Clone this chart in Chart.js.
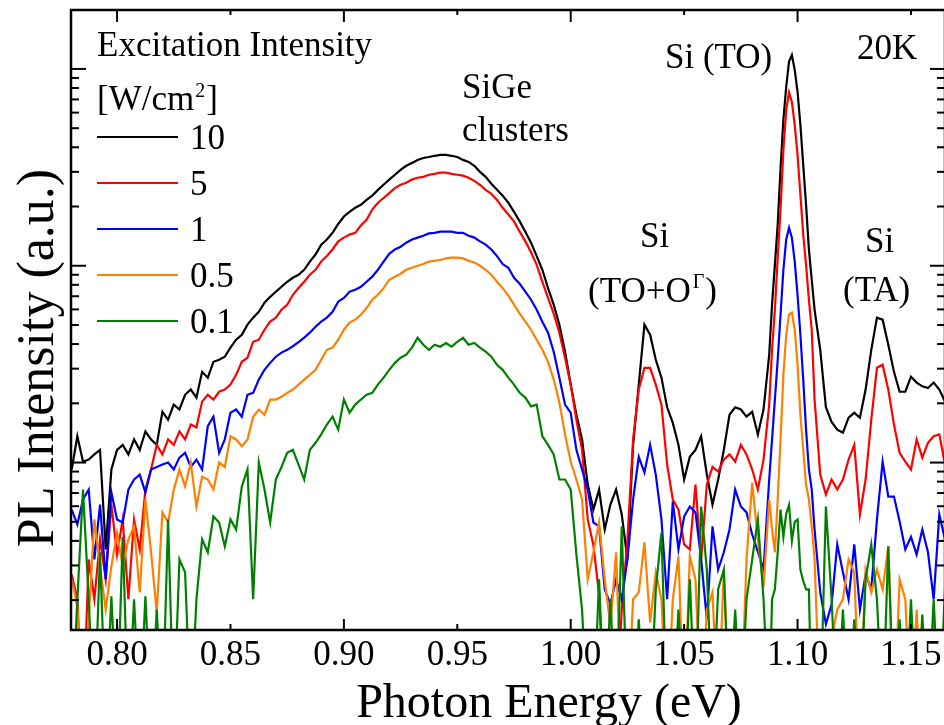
<!DOCTYPE html>
<html>
<head>
<meta charset="utf-8">
<script src="https://cdn.jsdelivr.net/npm/chart.js@4.4.1/dist/chart.umd.min.js"></script>
<style>
  html, body { margin: 0; padding: 0; overflow: hidden; background: #fff; }
  canvas { display: block; }
</style>
</head>
<body>
<canvas id="c" width="960" height="725"></canvas>
<script>
// Photon energy (eV) — finer sampling around the Si(TO) line
const energy = [
0.7800,0.7825,0.7850,0.7875,0.7900,0.7925,0.7950,0.7975,0.8000,0.8025,
0.8050,0.8075,0.8100,0.8125,0.8150,0.8175,0.8200,0.8225,0.8250,0.8275,
0.8300,0.8325,0.8350,0.8375,0.8400,0.8425,0.8450,0.8475,0.8500,0.8525,
0.8550,0.8575,0.8600,0.8625,0.8650,0.8675,0.8700,0.8725,0.8750,0.8775,
0.8800,0.8825,0.8850,0.8875,0.8900,0.8925,0.8950,0.8975,0.9000,0.9025,
0.9050,0.9075,0.9100,0.9125,0.9150,0.9175,0.9200,0.9225,0.9250,0.9275,
0.9300,0.9325,0.9350,0.9375,0.9400,0.9425,0.9450,0.9475,0.9500,0.9525,
0.9550,0.9575,0.9600,0.9625,0.9650,0.9675,0.9700,0.9725,0.9750,0.9775,
0.9800,0.9825,0.9850,0.9875,0.9900,0.9925,0.9950,0.9975,1.0000,1.0025,
1.0050,1.0075,1.0100,1.0125,1.0150,1.0175,1.0200,1.0225,1.0250,1.0275,
1.0300,1.0325,1.0350,1.0375,1.0400,1.0425,1.0450,1.0475,1.0500,1.0525,
1.0550,1.0575,1.0600,1.0625,1.0650,1.0675,1.0700,1.0725,1.0750,1.0775,
1.0800,1.0825,1.0850,1.0875,1.08875,1.0900,1.09125,1.0925,1.09375,1.0950,
1.09625,1.0975,1.09875,1.1000,1.10125,1.1025,1.10375,1.1050,1.10625,1.1075,
1.1100,1.1125,1.1150,1.1175,1.1200,1.1225,1.1250,1.1275,
1.1300,1.1325,1.1350,1.1375,1.1400,1.1425,1.1450,1.1475,1.1500,1.1525,
1.1550,1.1575,1.1600,1.1625,1.1650];

// PL intensity (a.u.) for each excitation intensity
const pl10 = [
9.22,13.6,10.1,10.35,11.0,11.6,3.62,9.22,11.6,12.3,
11.0,13.1,11.6,14.4,13.1,12.3,18.1,16.5,19.7,18.6,
22.1,23.5,21.4,28.9,27.0,32.5,33.3,34.5,38.4,42.1,
44.6,50.2,54.5,58.4,64.9,69.5,73.8,78.2,82.9,86.9,
90.0,95.4,105,114,128,136,147,163,178,188,
197,204,216,227,243,258,274,290,307,322,
333,345,353,357,362,366,366,362,357,345,
337,322,300,283,261,243,227,209,188,168,
149,131,112,95.4,77.0,63.4,50.2,36.6,24.9,17.5,
13.1,7.73,5.77,7.29,4.57,6.12,7.29,5.45,3.22,12.3,
24.9,50.2,44.6,33.3,27.0,19.1,15.9,12.3,8.20,10.7,
11.6,13.6,8.69,6.12,8.20,11.6,17.5,19.1,18.6,17.1,
18.1,13.9,18.6,35.3,63.4,101,162,313,551,812,
1090,1178,989,765,520,326,204,121,84.9,59.8,
37.4,19.1,16.1,14.7,14.2,16.9,17.9,16.9,
23.5,37.4,54.5,53.2,39.7,28.9,22.9,22.9,27.3,25.5,
24.4,23.9,25.5,23.5,20.4];

const pl5 = [
2.70,2.02,0.5,3.22,2.02,4.07,2.55,6.12,3.41,5.14,
2.02,5.14,3.62,7.29,9.22,12.3,11.0,13.1,12.3,14.4,
13.1,15.6,15.1,20.4,22.1,20.9,22.9,23.5,24.9,27.9,
32.5,34.1,41.1,42.1,47.3,52.0,54.5,59.8,63.4,71.2,
77.0,82.9,90.0,95.4,105,112,121,133,139,144,
147,160,171,193,209,221,234,248,258,264,
274,280,283,290,293,297,297,293,290,287,
280,270,258,243,232,216,197,182,168,149,
133,117,101,82.9,68.6,57.1,45.7,34.1,24.9,16.5,
11.6,5.14,3.80,2.14,0.5,0.5,0.5,1.79,4.07,13.1,
23.5,30.3,30.3,24.9,19.7,9.77,6.49,5.77,3.84,3.62,
7.73,3.22,7.73,9.5,9.0,10.35,11.0,10.1,12.3,11.0,
9.22,7.29,10.35,19.7,37.4,59.8,110,193,388,620,
760,680,520,366,230,144,101,67.2,47.3,20.9,
8.69,6.88,8.20,7.29,8.20,10.35,12.3,5.45,
8.20,16.5,30.3,31.4,23.5,15.6,11.2,10.1,9.22,13.1,
10.6,12.6,13.6,13.9,9.77];

const pl1 = [
5.77,4.85,6.49,7.29,3.22,6.12,2.55,7.05,5.14,4.96,
7.29,8.20,8.69,7.05,9.22,9.5,9.77,10.0,9.22,10.6,
11.2,9.5,10.35,9.22,15.3,17.1,11.2,13.1,17.9,18.6,
17.1,22.1,22.6,26.4,29.6,32.1,34.5,36.2,37.4,39.0,
40.9,43.1,45.7,49.0,52.0,54.5,58.4,65.7,68.6,73.8,
75.5,78.2,82.9,88.0,95.4,105,115,121,125,131,
136,139,142,146,147,149,149,149,147,147,
142,139,133,128,121,112,102,97.6,86.9,81.0,
73.8,67.2,59.8,52.0,45.7,36.6,27.0,19.7,17.9,11.6,
9.22,7.29,4.96,4.74,2.27,1.90,2.55,2.02,3.22,6.49,
10.7,8.9,12.3,8.69,5.14,2.02,6.34,3.62,5.32,5.98,
5.58,3.22,1.60,4.74,2.86,3.50,4.57,7.29,5.98,5.58,
4.31,3.53,2.86,8.20,13.1,20.9,33.3,56.4,95.4,136,
156,139,105,71.2,44.6,26.4,14.7,9.22,7.29,4.57,
2.19,1.51,1.90,3.84,2.77,2.02,3.84,1.79,
2.70,2.27,5.14,10.1,6.72,6.72,5.02,3.62,4.19,3.41,
4.57,3.50,2.02,5.45,4.07];

const pl05 = [
2.55,1.86,0.5,1.60,5.14,2.97,1.79,2.97,4.41,2.97,
4.07,4.73,2.19,6.49,3.50,1.73,5.58,4.96,7.29,9.22,
7.56,10.0,5.98,8.49,8.20,7.29,10.0,9.5,13.6,13.1,
12.1,13.1,17.1,18.6,17.5,20.9,20.9,21.6,22.6,23.5,
24.9,26.4,27.9,29.6,33.3,37.4,38.4,42.1,47.3,51.4,
53.2,56.4,61.0,67.2,71.2,77.0,84.9,88.0,91.1,95.4,
97.6,100,102,105,106,107,109,110,110,109,
106,104,100,95.4,90.0,82.9,77.0,70.5,63.4,57.1,
52.0,47.3,42.1,37.4,32.5,26.4,20.2,13.9,10.1,8.20,
6.49,2.55,3.50,4.96,2.55,1.47,3.50,0.5,0.5,2.02,
2.19,3.93,1.54,2.77,2.02,0.5,2.02,3.34,0.5,3.34,
2.55,0.5,1.79,2.19,0.5,2.86,0.5,1.60,0.5,3.22,
7.9,4.07,2.33,6.49,4.57,3.50,6.49,13.1,27.9,44.6,
56.4,57.7,47.3,31.4,17.5,11.6,7.73,6.49,4.74,3.22,
0.5,0.5,1.26,1.79,2.02,3.22,2.77,0.5,
2.86,2.19,2.86,2.27,3.75,0.5,2.55,2.02,0.5,1.79,
0.5,0.5,1.60,0.5,1.60];

const pl01 = [
0.5,2.02,7.29,2.02,0.5,3.50,0.5,2.09,0.5,4.2,
0.5,2.02,0.5,2.09,0.5,1.79,0.5,5.14,0.5,3.22,
2.77,0.5,2.02,4.07,3.50,5.32,4.96,3.75,5.14,4.57,
7.56,9.22,2.02,10.0,7.29,4.96,8.20,9.5,11.2,11.6,
9.77,8.2,11.6,12.6,13.9,15.6,17.1,14.7,20.9,17.9,
19.7,20.9,22.1,22.6,24.9,27.0,29.6,32.1,34.1,35.3,
38.4,43.1,39.7,37.4,39.7,38.8,40.5,38.8,41.1,43.1,
39.7,40.5,38.4,36.6,34.5,31.4,29.6,27.0,24.9,22.6,
21.4,19.3,19.7,13.6,12.3,11.0,8.20,8.20,7.29,3.41,
1.79,0.5,0.5,2.55,0.5,2.02,0.5,4.74,0.5,0.5,
1.60,0.5,0.5,2.27,4.41,0.5,0.5,1.79,0.5,2.55,
0.5,5.98,2.86,0.5,2.27,2.86,0.5,1.79,0.5,2.02,
3.22,5.14,2.02,0.5,2.02,2.27,3.50,5.77,4.20,5.50,
6.10,4.00,5.00,5.14,2.86,2.50,2.27,2.27,0.5,0.5,
0.5,5.98,2.02,0.5,1.79,0.5,1.60,0.5,
2.55,3.84,2.02,0.5,3.75,0.5,1.60,0.5,2.02,0.5,
1.69,0.5,2.02,0.5,2.27];

const seriesLabels = ['10', '5', '1', '0.5', '0.1'];
const seriesColors = ['#000000', '#ff0000', '#0000ff', '#ff8000', '#008000'];
const seriesValues = [pl10, pl5, pl1, pl05, pl01];

const xMin = 0.7797, xMax = 1.165;
const yMin = 1.41, yMax = 1993;

const SERIF = '"Liberation Serif", "Times New Roman", serif';

function seg(ctx, x1, y1, x2, y2) {
  ctx.beginPath(); ctx.moveTo(x1, y1); ctx.lineTo(x2, y2); ctx.stroke();
}

const deco = {
  id: 'deco',
  afterDatasetsDraw(chart) {
    const { ctx, chartArea: a, scales } = chart;
    const x = scales.x, y = scales.y;
    ctx.save();
    ctx.strokeStyle = '#000';
    ctx.lineWidth = 2.5;
    ctx.strokeRect(a.left, a.top, a.right - a.left, a.bottom - a.top);
    ctx.lineWidth = 2;
    // x ticks (inward, top and bottom)
    x.ticks.forEach(t => {
      const px = x.getPixelForValue(t.value);
      const major = Math.round(t.value * 100) % 10 === 0;
      seg(ctx, px, a.bottom, px, a.bottom - (major ? 11 : 6));
      seg(ctx, px, a.top, px, a.top + (major ? 12 : 5));
    });
    // y ticks (log, inward, left and right)
    for (let d = 1; d <= 1000; d *= 10) {
      for (let m = 1; m <= 9; m++) {
        const v = d * m;
        if (v < yMin || v > yMax) continue;
        const py = y.getPixelForValue(v);
        const len = m === 1 ? 15 : 8;
        seg(ctx, a.left, py, a.left + len, py);
        seg(ctx, a.right, py, a.right - len, py);
      }
    }
    ctx.restore();

    // texts
    ctx.save();
    ctx.fillStyle = '#000';
    ctx.textBaseline = 'alphabetic';
    ctx.textAlign = 'left';
    ctx.font = '35px ' + SERIF;
    ctx.fillText('Excitation Intensity', 97, 56);
    // [W/cm^2]
    let tx = 97;
    ctx.fillText('[W/cm', tx, 110);
    tx += ctx.measureText('[W/cm').width + 1;
    ctx.font = '20px ' + SERIF;
    ctx.fillText('2', tx, 97);
    tx += ctx.measureText('2').width + 1;
    ctx.font = '35px ' + SERIF;
    ctx.fillText(']', tx, 110);

    // legend
    seriesLabels.forEach((lab, k) => {
      const ly = 137 + 46 * k;
      ctx.strokeStyle = seriesColors[k];
      ctx.lineWidth = 2.2;
      seg(ctx, 97, ly, 178, ly);
      ctx.fillText(lab, 190, ly + 12);
    });

    // annotations
    ctx.fillText('SiGe', 462, 98);
    ctx.fillText('clusters', 462, 141);
    ctx.fillText('Si (TO)', 665, 68);
    ctx.fillText('20K', 857, 59);
    ctx.fillText('Si', 640, 247);
    tx = 588;
    ctx.fillText('(TO+O', tx, 302);
    tx += ctx.measureText('(TO+O').width + 2;
    ctx.font = '20px ' + SERIF;
    ctx.fillText('\u0393', tx, 288);
    tx += ctx.measureText('\u0393').width + 1;
    ctx.font = '35px ' + SERIF;
    ctx.fillText(')', tx, 302);
    ctx.fillText('Si', 865, 252);
    ctx.fillText('(TA)', 843, 301);

    // axis titles
    ctx.font = '48px ' + SERIF;
    ctx.textAlign = 'center';
    ctx.fillText('Photon Energy (eV)', 549, 717);
    ctx.save();
    ctx.translate(53, 358);
    ctx.rotate(-Math.PI / 2);
    ctx.font = '52px ' + SERIF;
    ctx.fillText('PL Intensity (a.u.)', 0, 0);
    ctx.restore();
    ctx.restore();
  }
};

function build() {
  const datasets = seriesValues.map((vals, k) => ({
    label: seriesLabels[k],
    data: energy.map((e, i) => ({ x: e, y: vals[i] })),
    borderColor: seriesColors[k],
    backgroundColor: seriesColors[k],
    borderWidth: 2.2,
    pointRadius: 0,
    tension: 0,
    fill: false,
    order: seriesValues.length - k
  }));
  new Chart(document.getElementById('c'), {
    type: 'line',
    data: { datasets },
    options: {
      responsive: false,
      animation: false,
      events: [],
      layout: { padding: { left: 71, top: 10, right: 15, bottom: 0 } },
      plugins: { legend: { display: false }, tooltip: { enabled: false }, title: { display: false } },
      scales: {
        x: {
          type: 'linear',
          min: xMin, max: xMax,
          grid: { display: false, drawTicks: false },
          border: { display: false },
          ticks: {
            stepSize: 0.05,
            includeBounds: false,
            autoSkip: false,
            maxRotation: 0,
            padding: 5,
            color: '#000',
            font: { family: SERIF, size: 35 },
            callback: v => Number(v).toFixed(2)
          },
          afterFit: s => { s.height = 95; }
        },
        y: {
          type: 'logarithmic',
          min: yMin, max: yMax,
          display: false
        }
      }
    },
    plugins: [deco]
  });
}

if (document.fonts && document.fonts.load) {
  document.fonts.load('35px "Liberation Serif"').then(build, build);
} else {
  build();
}
</script>
</body>
</html>
